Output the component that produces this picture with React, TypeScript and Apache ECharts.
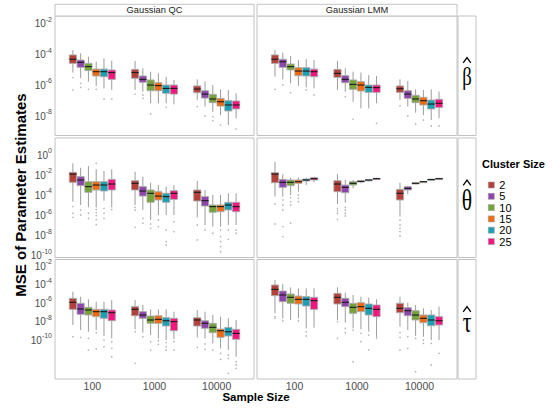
import React, { useEffect, useRef } from "react";
import * as echarts from "echarts";

const sampleSizes = ["100", "1000", "10000"];
const clusterSizes = ["2", "5", "10", "15", "20", "25"];
const methods = ["Gaussian QC", "Gaussian LMM"];
const parameters = ["β", "θ", "τ"];
const clusterColors = ["#b5403a", "#8e44ad", "#74a33a", "#f26a10", "#1aa0b5", "#f5157f"];

// log10(MSE) box statistics: [lower whisker, Q1, median, Q3, upper whisker]
// outer index = cluster size, inner index = sample size (100, 1000, 10000)
const qcBeta = [
  [[-5.30, -4.70, -4.43, -4.15, -3.83], [-6.43, -5.67, -5.30, -5.09, -4.54], [-7.09, -6.61, -6.37, -6.17, -5.74]],
  [[-5.67, -4.96, -4.63, -4.48, -4.04], [-6.54, -5.93, -5.74, -5.52, -5.02], [-7.52, -6.96, -6.70, -6.48, -5.87]],
  [[-5.89, -5.17, -4.91, -4.70, -4.26], [-7.30, -6.48, -6.11, -5.78, -5.24], [-7.85, -7.26, -7.02, -6.72, -6.11]],
  [[-6.17, -5.52, -5.24, -5.07, -4.59], [-7.30, -6.48, -6.15, -5.96, -5.35], [-8.07, -7.48, -7.20, -6.98, -6.39]],
  [[-6.33, -5.57, -5.24, -5.07, -4.37], [-7.30, -6.65, -6.33, -6.11, -5.57], [-8.72, -7.80, -7.41, -7.13, -6.43]],
  [[-6.43, -5.74, -5.30, -5.13, -4.52], [-7.37, -6.70, -6.33, -6.11, -5.78], [-8.28, -7.67, -7.41, -7.15, -6.65]],
];
const qcBetaOutliers = [
  [[-5.63, -6.43], [-6.70], [-7.52]],
  [[-6.00, -6.26], [-6.76, -6.98], [-8.13]],
  [[-6.39], [-8.00], [-8.17, -8.43]],
  [[-6.39], [], [-8.72]],
  [[-7.02], [-7.57], []],
  [[-7.02], [], [-8.98]],
];

const lmmBeta = [
  [[-5.57, -4.70, -4.43, -4.15, -3.83], [-6.43, -5.61, -5.35, -5.09, -4.54], [-7.09, -6.59, -6.35, -6.17, -5.74]],
  [[-5.74, -4.96, -4.59, -4.43, -4.00], [-6.54, -5.96, -5.74, -5.50, -5.02], [-7.52, -6.98, -6.70, -6.48, -5.85]],
  [[-6.00, -5.13, -4.91, -4.74, -4.22], [-7.20, -6.39, -6.07, -5.78, -5.24], [-7.91, -7.26, -7.02, -6.78, -6.39]],
  [[-6.17, -5.50, -5.20, -4.98, -4.48], [-7.63, -6.50, -6.11, -5.89, -5.30], [-8.07, -7.41, -7.13, -6.91, -6.43]],
  [[-6.26, -5.52, -5.20, -4.98, -4.41], [-7.63, -6.59, -6.26, -6.11, -5.46], [-8.39, -7.67, -7.35, -7.09, -6.39]],
  [[-6.33, -5.57, -5.24, -5.07, -4.48], [-7.30, -6.59, -6.28, -6.11, -5.52], [-8.28, -7.57, -7.30, -7.04, -6.54]],
];
const lmmBetaOutliers = [
  [[-6.39], [], [-7.48]],
  [[-6.11], [-6.87], [-8.13]],
  [[-6.61], [-8.33], [-8.65]],
  [[], [], [-8.39]],
  [[-6.43], [], [-8.78]],
  [[-6.76], [-8.61], [-8.78]],
];

const qcTheta = [
  [[-4.82, -2.90, -2.08, -1.91, -1.02], [-5.15, -3.66, -3.00, -2.74, -1.85], [-6.37, -4.75, -3.89, -3.66, -2.77]],
  [[-5.15, -3.23, -2.67, -2.34, -1.45], [-5.64, -4.26, -3.76, -3.33, -2.34], [-7.13, -5.25, -4.72, -4.32, -3.66]],
  [[-5.38, -3.89, -3.33, -2.84, -1.29], [-6.63, -4.88, -3.99, -3.66, -2.94], [-7.29, -5.87, -5.31, -5.15, -4.16]],
  [[-5.25, -3.66, -3.17, -2.84, -1.62], [-6.14, -4.65, -4.26, -3.83, -3.17], [-7.29, -5.81, -5.31, -5.15, -4.16]],
  [[-4.72, -3.76, -3.17, -2.84, -1.78], [-6.14, -4.88, -4.32, -3.99, -3.33], [-7.13, -5.64, -5.15, -4.88, -3.99]],
  [[-5.38, -3.66, -3.07, -2.61, -1.62], [-6.14, -4.59, -3.99, -3.73, -3.17], [-7.13, -5.81, -5.31, -4.88, -3.99]],
];
const qcThetaOutliers = [
  [[-5.31, -5.97, -6.37], [-5.38, -5.64, -7.36], [-7.13, -8.61]],
  [[-5.64, -6.14], [-6.47, -6.96], [-7.62]],
  [[-5.97, -6.47], [-7.03, -7.46], [-7.95]],
  [[-1.02, -5.31, -5.60, -5.90, -6.20, -6.60, -7.10], [-6.63, -7.29], [-7.62, -8.28, -8.78, -9.27, -9.77]],
  [[-5.48, -5.97, -6.47], [-7.62, -8.78, -9.11], [-7.62, -8.55]],
  [[-5.60], [-6.80, -7.79], [-7.62, -7.95]],
];

const lmmTheta = [
  [[-4.32, -2.94, -2.08, -1.95, -0.86], [-5.05, -3.83, -3.07, -2.74, -2.08], [-6.30, -4.65, -3.99, -3.60, -2.94]],
  [[-4.32, -3.40, -2.90, -2.61, -2.11], [-4.92, -3.93, -3.40, -3.17, -2.67], [-4.09, -3.66, -3.50, -3.33, -3.27]],
  [[-4.16, -3.23, -2.90, -2.67, -2.44], [-3.50, -3.17, -3.00, -2.84, -2.67], [-3.10, -3.07, -3.00, -2.94, -2.90]],
  [[-3.83, -3.00, -2.84, -2.67, -2.41], [-3.00, -2.87, -2.81, -2.74, -2.67], [-2.90, -2.87, -2.84, -2.81, -2.77]],
  [[-3.17, -2.77, -2.67, -2.57, -2.44], [-2.81, -2.74, -2.67, -2.64, -2.57], [-2.67, -2.64, -2.62, -2.61, -2.57]],
  [[-2.90, -2.67, -2.54, -2.44, -2.34], [-2.67, -2.61, -2.54, -2.51, -2.44], [-2.61, -2.57, -2.54, -2.51, -2.48]],
];
const lmmThetaOutliers = [
  [[-5.05, -7.03], [-5.48, -5.71, -5.97, -6.57], [-6.63, -7.13, -7.46, -7.79, -8.22]],
  [[-4.65, -5.15, -5.64, -7.29, -8.28], [-5.38, -5.64, -5.97, -6.24], []],
  [[-4.42, -4.82, -5.15, -6.96], [], []],
  [[-4.16, -4.49, -4.82], [], []],
  [[], [], []],
  [[], [], []],
];

const qcTau = [
  [[-8.59, -6.90, -6.14, -5.71, -4.99], [-9.06, -7.59, -6.90, -6.61, -5.89], [-9.93, -8.70, -8.05, -7.80, -6.97]],
  [[-9.14, -7.44, -6.86, -6.25, -5.53], [-9.42, -7.87, -7.51, -7.15, -6.43], [-10.04, -8.95, -8.41, -8.13, -7.15]],
  [[-9.32, -7.51, -6.97, -6.68, -5.82], [-9.68, -8.41, -8.05, -7.62, -6.90], [-10.58, -9.42, -8.84, -8.41, -7.51]],
  [[-9.14, -7.69, -7.15, -6.90, -6.07], [-10.04, -8.41, -7.98, -7.59, -6.90], [-11.12, -9.93, -9.21, -9.03, -7.69]],
  [[-9.78, -7.87, -7.15, -6.90, -6.07], [-10.22, -8.70, -8.13, -7.80, -6.90], [-11.30, -9.78, -9.32, -8.85, -7.87]],
  [[-10.04, -8.13, -7.26, -6.97, -5.89], [-10.14, -9.21, -8.23, -7.87, -7.15], [-12.02, -10.14, -9.50, -9.06, -8.05]],
];
const qcTauOutliers = [
  [[-9.86], [-9.32, -12.74], [-11.01]],
  [[-9.93], [-9.86], [-10.65, -11.23]],
  [[-10.04, -11.30], [-10.40, -11.30], [-11.30]],
  [[-9.42, -11.19], [-10.29, -10.68], [-11.66, -12.31]],
  [[-10.22, -10.94], [-10.50, -10.94, -11.30], [-11.84, -12.20, -13.82]],
  [[-10.40, -11.12, -12.02], [-10.40, -11.30], [-12.56, -12.92, -13.28]],
];

const lmmTau = [
  [[-7.33, -5.42, -4.74, -4.27, -3.73], [-8.05, -6.32, -5.60, -5.17, -4.52], [-8.77, -7.26, -6.79, -6.25, -5.53]],
  [[-7.87, -6.07, -5.35, -4.92, -4.16], [-8.34, -6.61, -6.14, -5.71, -5.10], [-9.14, -7.59, -7.05, -6.72, -6.18]],
  [[-8.05, -6.25, -5.60, -5.24, -4.52], [-8.95, -7.33, -6.68, -6.25, -5.35], [-9.78, -8.05, -7.51, -7.05, -6.43]],
  [[-7.87, -6.32, -5.82, -5.46, -4.63], [-9.06, -7.15, -6.61, -6.18, -5.53], [-9.86, -8.34, -7.87, -7.51, -6.79]],
  [[-8.95, -6.54, -5.82, -5.53, -4.63], [-9.32, -7.51, -6.79, -6.32, -5.64], [-10.22, -8.67, -8.05, -7.51, -6.97]],
  [[-8.88, -6.90, -5.96, -5.60, -4.63], [-9.93, -7.69, -6.90, -6.43, -5.82], [-10.22, -8.59, -8.13, -7.69, -6.61]],
];
const lmmTauOutliers = [
  [[-7.69, -7.87], [-8.23, -10.04], [-9.42, -9.93, -11.30]],
  [[-8.13], [-8.95, -9.42], [-9.86, -11.12]],
  [[], [-9.14, -12.56], [-10.04, -13.64]],
  [[-8.13], [-9.50, -10.40], [-10.22, -10.58]],
  [[-9.32, -9.78], [-9.68, -11.30], [-10.58, -12.92]],
  [[], [-10.04], [-11.66]],
];

// y axis (log10 MSE) extents and labelled exponents per row
const rowMin = [-9.4, -10.35, -14.43];
const rowMax = [-1.61, 1.49, -1.51];
const rowTickExps = [[-2, -4, -6, -8], [0, -2, -4, -6, -8, -10], [-2, -4, -6, -8, -10]];

const panels = [
  { row: 0, col: 0, boxes: qcBeta, outliers: qcBetaOutliers },
  { row: 0, col: 1, boxes: lmmBeta, outliers: lmmBetaOutliers },
  { row: 1, col: 0, boxes: qcTheta, outliers: qcThetaOutliers },
  { row: 1, col: 1, boxes: lmmTheta, outliers: lmmThetaOutliers },
  { row: 2, col: 0, boxes: qcTau, outliers: qcTauOutliers },
  { row: 2, col: 1, boxes: lmmTau, outliers: lmmTauOutliers },
];

// layout
const FONT = "Liberation Sans, Arial, Helvetica, sans-serif";
const colLeft = [55, 257];
const colWidth = [199, 200];
const rowTop = [16, 138, 259.5];
const rowHeight = [119.5, 119.5, 119.5];
const DODGE = 0.75 / 6;
const BORDER = "#c2c2c2";
const hatTop = [57.5, 180, 306.5];
const letterY = [76.5, 200, 322];
const letterSize = [26, 30, 30];
const STRIP_X = 458;
const STRIP_W = 18;

function buildOption() {
  const grid: any[] = [];
  const xAxis: any[] = [];
  const yAxis: any[] = [];
  const series: any[] = [];
  const mid = (clusterSizes.length - 1) / 2;

  panels.forEach((p, g) => {
    grid.push({
      left: colLeft[p.col],
      top: rowTop[p.row],
      width: colWidth[p.col],
      height: rowHeight[p.row],
      show: true,
      borderColor: BORDER,
      borderWidth: 1,
      backgroundColor: "#fff",
    });
    xAxis.push({
      type: "value",
      gridIndex: g,
      min: 0.4,
      max: 3.6,
      axisLine: { show: false },
      axisTick: { show: false },
      splitLine: { show: false },
      axisLabel: {
        show: p.row === 2,
        customValues: [1, 2, 3],
        formatter: (v: number) => sampleSizes[Math.round(v) - 1],
        fontSize: 10.5,
        color: "#4d4d4d",
        fontFamily: FONT,
        margin: 1,
      },
    });
    yAxis.push({
      type: "value",
      gridIndex: g,
      min: rowMin[p.row],
      max: rowMax[p.row],
      axisLine: { show: false },
      axisTick: { show: false },
      splitLine: { show: false },
      axisLabel: {
        show: p.col === 0,
        customValues: rowTickExps[p.row],
        formatter: (v: number) => `{b|10}{s|${v}}`,
        margin: 3,
        rich: {
          b: { fontSize: 10, color: "#4d4d4d", fontFamily: FONT, lineHeight: 12, padding: [4, 0, 0, 0] },
          s: { fontSize: 7, color: "#4d4d4d", fontFamily: FONT, lineHeight: 8, verticalAlign: "top" },
        },
      },
    });

    clusterSizes.forEach((name, k) => {
      const color = clusterColors[k];
      series.push({
        type: "custom",
        name,
        xAxisIndex: g,
        yAxisIndex: g,
        silent: true,
        encode: { x: 0, y: [1, 2, 3, 4, 5] },
        data: p.boxes[k].map((b, i) => [i + 1, ...b]),
        renderItem: (_params: any, api: any) => {
          const xv = api.value(0) + (k - mid) * DODGE;
          const lo = api.coord([xv, api.value(1)]);
          const q1 = api.coord([xv, api.value(2)]);
          const md = api.coord([xv, api.value(3)]);
          const q3 = api.coord([xv, api.value(4)]);
          const hi = api.coord([xv, api.value(5)]);
          const w = api.size([DODGE, 0])[0] * 0.92;
          const x = md[0];
          const h = Math.max(q1[1] - q3[1], 1.2);
          const whisker = { stroke: "#9c9c9c", lineWidth: 1 };
          return {
            type: "group",
            children: [
              { type: "line", shape: { x1: x, y1: hi[1], x2: x, y2: q3[1] }, style: whisker },
              { type: "line", shape: { x1: x, y1: q1[1], x2: x, y2: lo[1] }, style: whisker },
              {
                type: "rect",
                shape: { x: x - w / 2, y: q3[1], width: w, height: h },
                style: { fill: color, stroke: "#a9a9a9", lineWidth: 0.9 },
              },
              {
                type: "line",
                shape: { x1: x - w / 2, y1: md[1], x2: x + w / 2, y2: md[1] },
                style: { stroke: "#1a1a1a", lineWidth: 1.1 },
              },
            ],
          };
        },
      });
    });

    const pts: number[][] = [];
    p.outliers.forEach((perSize, k) =>
      perSize.forEach((vals, i) => vals.forEach((v) => pts.push([i + 1 + (k - mid) * DODGE, v])))
    );
    series.push({
      type: "scatter",
      name: "outliers",
      xAxisIndex: g,
      yAxisIndex: g,
      silent: true,
      symbol: "circle",
      symbolSize: 1.6,
      itemStyle: { color: "#a3a3a3" },
      data: pts,
    });
  });

  const graphic: any[] = [];
  methods.forEach((m, c) => {
    graphic.push({
      type: "rect",
      shape: { x: colLeft[c], y: 4.3, width: colWidth[c], height: 11.7 },
      style: { fill: "#fff", stroke: BORDER, lineWidth: 1 },
    });
    graphic.push({
      type: "text",
      x: colLeft[c] + colWidth[c] / 2,
      y: 10.3,
      style: { text: m, fontSize: 9.3, fontFamily: FONT, fill: "#1a1a1a", align: "center", verticalAlign: "middle" },
    });
  });
  parameters.forEach((sym, r) => {
    graphic.push({
      type: "rect",
      shape: { x: STRIP_X, y: rowTop[r], width: STRIP_W, height: rowHeight[r] },
      style: { fill: "#fff", stroke: BORDER, lineWidth: 1 },
    });
    const cx = STRIP_X + STRIP_W / 2;
    graphic.push({
      type: "polyline",
      shape: { points: [[cx - 3.8, hatTop[r] + 5.3], [cx, hatTop[r]], [cx + 3.8, hatTop[r] + 5.3]] },
      style: { stroke: "#000", lineWidth: 1.3, fill: "none" },
    });
    graphic.push({
      type: "text",
      x: cx,
      y: letterY[r],
      scaleX: 0.72,
      style: {
        text: sym,
        fontSize: letterSize[r],
        fontFamily: "Liberation Serif, DejaVu Serif, serif",
        fill: "#000",
        align: "center",
        verticalAlign: "middle",
      },
    });
  });
  graphic.push({
    type: "text",
    x: 20,
    y: 195,
    rotation: Math.PI / 2,
    style: {
      text: "MSE of Parameter Estimates",
      fontSize: 15,
      fontWeight: "bold",
      fontFamily: FONT,
      fill: "#000",
      align: "center",
      verticalAlign: "middle",
    },
  });
  graphic.push({
    type: "text",
    x: 256,
    y: 397,
    style: {
      text: "Sample Size",
      fontSize: 11.5,
      fontWeight: "bold",
      fontFamily: FONT,
      fill: "#000",
      align: "center",
      verticalAlign: "middle",
    },
  });
  graphic.push({
    type: "text",
    x: 482,
    y: 164,
    style: {
      text: "Cluster Size",
      fontSize: 11,
      fontWeight: "bold",
      fontFamily: FONT,
      fill: "#000",
      align: "left",
      verticalAlign: "middle",
    },
  });

  return {
    animation: false,
    backgroundColor: "#fff",
    textStyle: { fontFamily: FONT },
    grid,
    xAxis,
    yAxis,
    series,
    graphic,
    legend: {
      orient: "vertical",
      left: 483,
      top: 174.5,
      itemWidth: 6,
      itemHeight: 6,
      itemGap: 0.3,
      selectedMode: false,
      textStyle: { fontSize: 11, color: "#000", lineHeight: 10, fontFamily: FONT },
      data: clusterSizes.map((n, k) => ({
        name: n,
        icon: "rect",
        itemStyle: { color: clusterColors[k], borderColor: "#9c9c9c", borderWidth: 0.6 },
      })),
    },
  };
}

export default function App() {
  const ref = useRef<HTMLDivElement>(null);
  useEffect(() => {
    const chart = echarts.init(ref.current!, null, { renderer: "svg" });
    chart.setOption(buildOption());
    return () => chart.dispose();
  }, []);
  return <div ref={ref} style={{ position: "fixed", left: 0, top: 0, width: 552, height: 408 }} />;
}
